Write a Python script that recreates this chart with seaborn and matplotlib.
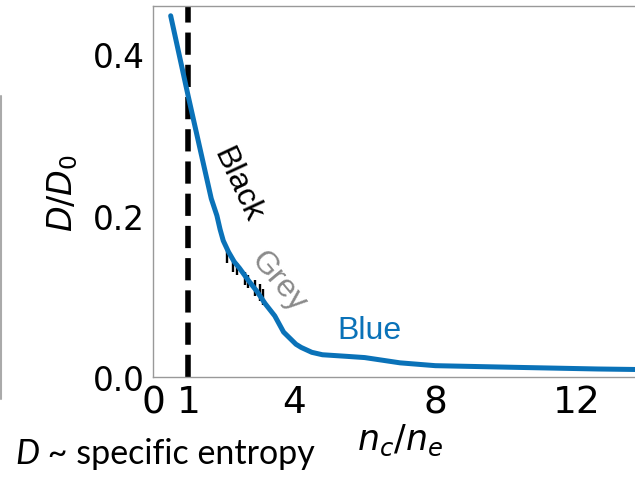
import numpy as np
import pandas as pd
import matplotlib
matplotlib.use("Agg")
import matplotlib.pyplot as plt
import seaborn as sns
from matplotlib.lines import Line2D

# ---- data ----
nc_ne = [0.5, 1.0, 1.5, 1.65, 1.81, 1.9, 1.99, 2.14, 2.3, 2.45, 2.70, 2.95, 3.18, 3.45,
         3.7, 4.05, 4.2, 4.5, 4.8, 5.5, 6.0, 7.0, 8.0, 10.2, 12.6, 14.0]
d_ratio = [0.447, 0.347, 0.250, 0.221, 0.200, 0.183, 0.169, 0.155, 0.143, 0.135, 0.120,
           0.106, 0.091, 0.076, 0.056, 0.041, 0.037, 0.031, 0.028, 0.026, 0.0245, 0.018,
           0.0145, 0.0125, 0.0104, 0.0096]
err_x = [2.09, 2.28, 2.37, 2.61, 2.70, 2.89, 3.03, 3.13]
err_y = [0.150, 0.138, 0.134, 0.122, 0.118, 0.111, 0.105, 0.099]
err_half = [0.009, 0.008, 0.008, 0.008, 0.008, 0.010, 0.010, 0.010]
x_ticks = [0, 1, 4, 8, 12]
y_ticks = [0.0, 0.2, 0.4]
crit_x = 1.0

BLUE = "#0a72b8"

sns.set_style("white")
plt.rcParams["font.family"] = ["DejaVu Sans"]
plt.rcParams["text.color"] = "black"
plt.rcParams["axes.labelcolor"] = "black"
plt.rcParams["xtick.color"] = "black"
plt.rcParams["ytick.color"] = "black"

fig = plt.figure(figsize=(6.35, 4.81), dpi=100)
ax = fig.add_axes([0.241, 0.2133, 0.778, 0.772])

df = pd.DataFrame({"x": nc_ne, "y": d_ratio})
ax.errorbar(err_x, err_y, yerr=err_half, fmt="none", ecolor="black", elinewidth=1.7,
            capsize=0, zorder=2)
sns.lineplot(data=df, x="x", y="y", ax=ax, color=BLUE, linewidth=3.6, zorder=3)
ax.axvline(crit_x, color="black", linewidth=4, dashes=(4, 1.8), zorder=1)

ax.set_xlim(0, 14.0)
ax.set_ylim(0, 0.459)
ax.set_xticks(x_ticks)
ax.set_xticklabels([str(t) for t in x_ticks])
ax.set_yticks(y_ticks)
ax.set_yticklabels([f"{t:.1f}" for t in y_ticks])
ax.tick_params(axis="both", length=4, width=0.8, color="#999999", direction="out")
ax.tick_params(axis="y", labelsize=23.5, pad=2)
ax.tick_params(axis="x", labelsize=27, pad=1)
for side in ["left", "top", "bottom"]:
    ax.spines[side].set_color("#999999")
    ax.spines[side].set_linewidth(1.0)
ax.spines["right"].set_visible(False)

ax.set_xlabel(r"$n_c/n_e$", fontsize=25, labelpad=1)
ax.set_ylabel(r"$D/D_0$", fontsize=24, labelpad=9)

ax.text(2.38, 0.239, "Black", rotation=-65, color="black", fontsize=23,
        family="Liberation Sans", ha="center", va="center", rotation_mode="anchor")
ax.text(3.55, 0.119, "Grey", rotation=-50, color="#8a8a8a", fontsize=23,
        family="Liberation Sans", ha="center", va="center", rotation_mode="anchor")
ax.text(6.13, 0.0586, "Blue", color=BLUE, fontsize=23,
        family="Liberation Sans", ha="center", va="center")

t1 = fig.text(15 / 635, 1 - 464 / 481, "D", fontsize=24.5, family="Lato", style="italic",
              ha="left", va="baseline")
ax.annotate(" ~ specific entropy", xy=(1, 0), xycoords=t1, fontsize=24.5, family="Lato",
            ha="left", va="bottom", annotation_clip=False)

# fragment of neighbouring panel at the left edge
fig.add_artist(Line2D([0.002, 0.002], [1 - 97 / 481, 1 - 400 / 481], color="#aaaaaa",
                      linewidth=1.5, transform=fig.transFigure))

fig.savefig("out.png", dpi=100)
